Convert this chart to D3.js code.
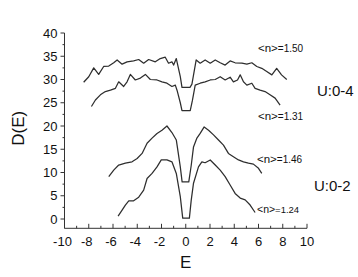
<!DOCTYPE html>
<html>
<head>
<meta charset="utf-8">
<script src="https://cdn.jsdelivr.net/npm/d3@7"></script>
<style>
  body { margin: 0; background: #fff; }
  text { font-family: "Liberation Sans", Arial, sans-serif; fill: #111; }
</style>
</head>
<body>
<svg id="chart"></svg>
<script>
// density of states curves, [E, D(E)]
const n150 = [[-8.42, 29.4], [-8.0, 30.6], [-7.59, 32.5], [-7.18, 31.1], [-6.77, 32.8], [-6.35, 32.9],
  [-5.94, 33.6], [-5.66, 34.2], [-5.25, 33.3], [-4.84, 33.8], [-4.3, 34.0], [-3.88, 34.3], [-3.47, 33.5],
  [-3.06, 34.3], [-2.51, 33.8], [-2.1, 34.5], [-1.69, 34.8], [-1.42, 33.5], [-1.14, 33.8], [-1.0, 33.1],
  [-0.78, 34.5], [-0.45, 30.6], [-0.31, 28.3], [0.35, 28.3], [0.51, 29.0], [0.86, 34.2], [1.19, 33.5],
  [1.6, 34.2], [2.02, 33.5], [2.43, 34.2], [2.84, 33.6], [3.25, 33.1], [3.66, 34.0], [4.07, 33.6],
  [4.63, 33.5], [5.04, 33.3], [5.45, 33.6], [5.86, 32.8], [6.27, 32.4], [6.68, 31.7], [7.1, 31.0],
  [7.5, 32.4], [7.9, 31.0], [8.33, 30.0]];
const n131 = [[-7.78, 24.2], [-7.45, 25.6], [-7.04, 26.7], [-6.63, 27.4], [-6.21, 27.7], [-5.8, 28.1],
  [-5.53, 29.5], [-5.12, 28.5], [-4.84, 29.5], [-4.57, 31.1], [-4.16, 29.9], [-3.74, 30.3], [-3.33, 31.1],
  [-2.92, 30.0], [-2.37, 29.9], [-1.96, 29.5], [-1.55, 29.2], [-1.14, 28.5], [-0.86, 28.8], [-0.72, 27.7],
  [-0.45, 25.0], [-0.31, 23.3], [0.37, 23.3], [0.55, 25.5], [0.78, 28.8], [1.19, 29.2], [1.6, 29.5],
  [2.02, 29.9], [2.43, 30.0], [2.84, 30.6], [3.25, 29.9], [3.66, 30.5], [3.93, 29.5], [4.27, 29.9],
  [4.49, 31.0], [4.76, 29.5], [5.04, 28.8], [5.45, 29.2], [5.72, 28.1], [6.13, 27.7], [6.54, 27.4],
  [6.95, 26.7], [7.37, 26.0], [7.78, 24.5]];
const n146 = [[-6.35, 9.1], [-5.94, 10.5], [-5.53, 11.6], [-4.98, 12.0], [-4.43, 12.3], [-4.01, 13.0],
  [-3.6, 14.1], [-3.19, 16.3], [-2.78, 17.4], [-2.37, 18.4], [-1.96, 19.1], [-1.55, 20.0], [-1.14, 18.6],
  [-0.78, 17.0], [-0.45, 11.2], [-0.3, 8.0], [0.25, 8.0], [0.45, 11.5], [0.64, 15.5], [0.92, 17.4],
  [1.19, 18.4], [1.52, 19.8], [1.88, 19.1], [2.29, 18.1], [2.7, 17.0], [3.11, 15.9], [3.52, 14.1],
  [3.93, 13.4], [4.35, 12.7], [4.76, 12.3], [5.17, 12.0], [5.58, 11.8], [6.0, 10.9], [6.27, 9.8]];
const n124 = [[-5.58, 0.6], [-5.25, 1.9], [-4.98, 3.0], [-4.7, 3.9], [-4.3, 3.9], [-3.88, 4.7],
  [-3.47, 6.2], [-3.19, 8.7], [-2.78, 9.8], [-2.37, 11.2], [-2.02, 12.7], [-1.55, 12.7], [-1.14, 12.3],
  [-0.78, 9.8], [-0.45, 4.8], [-0.25, 0.2], [0.3, 0.2], [0.45, 4.0], [0.64, 7.7], [1.05, 11.2],
  [1.33, 12.3], [1.6, 12.1], [2.02, 12.7], [2.43, 11.6], [2.84, 10.5], [3.25, 9.1], [3.66, 7.3],
  [4.07, 5.5], [4.49, 4.5], [4.9, 4.1], [5.31, 3.0], [5.72, 1.4]];

const curves = [n150, n131, n146, n124];
const fillings = ['1.50', '1.31', '1.46', '1.24'];
const xTicks = [-10, -8, -6, -4, -2, 0, 2, 4, 6, 8, 10];
const yTicks = [0, 5, 10, 15, 20, 25, 30, 35, 40];

const width = 358;
const height = 277;

const svg = d3.select('#chart')
  .attr('width', width)
  .attr('height', height);

const xScale = d3.scaleLinear().domain([-10, 10]).range([64.5, 307]);
const yScale = d3.scaleLinear().domain([0, 40]).range([219, 33]);
const yBottom = yScale(-2);

const line = d3.line()
  .x(d => xScale(d[0]))
  .y(d => yScale(d[1]));

svg.selectAll('path.dos')
  .data(curves)
  .enter().append('path')
  .attr('class', 'dos')
  .attr('fill', 'none')
  .attr('stroke', '#2e2e2e')
  .attr('stroke-width', 1.25)
  .attr('stroke-linejoin', 'round')
  .attr('d', line);

// x axis, ticks pointing in
const gx = svg.append('g')
  .attr('transform', `translate(0, ${yBottom})`);
gx.append('line')
  .attr('x1', xScale(-10)).attr('x2', xScale(10))
  .attr('stroke', '#333');
gx.selectAll('line.tick')
  .data(d3.range(-10, 11, 1))
  .enter().append('line')
  .attr('class', 'tick')
  .attr('x1', d => xScale(d)).attr('x2', d => xScale(d))
  .attr('y1', 0).attr('y2', d => d % 2 === 0 ? -4.5 : -2.5)
  .attr('stroke', '#333');
gx.selectAll('text')
  .data(xTicks)
  .enter().append('text')
  .attr('x', d => xScale(d) - (d < 0 ? 2 : 0))
  .attr('y', 18)
  .attr('text-anchor', 'middle')
  .attr('font-size', 13)
  .text(d => d);

// y axis, ticks pointing out
const gy = svg.append('g')
  .attr('transform', `translate(${xScale(-10)}, 0)`);
gy.append('line')
  .attr('y1', yScale(40)).attr('y2', yBottom)
  .attr('stroke', '#333');
gy.selectAll('line.tick')
  .data(d3.range(0, 40.1, 2.5))
  .enter().append('line')
  .attr('class', 'tick')
  .attr('y1', d => yScale(d)).attr('y2', d => yScale(d))
  .attr('x1', 0).attr('x2', d => d % 5 === 0 ? -4 : -2)
  .attr('stroke', '#333');
gy.selectAll('text')
  .data(yTicks)
  .enter().append('text')
  .attr('x', -7)
  .attr('y', d => yScale(d) + 4.5)
  .attr('text-anchor', 'end')
  .attr('font-size', 13)
  .text(d => d);

svg.append('text')
  .attr('transform', `translate(24, ${yScale(19.5)}) rotate(-90)`)
  .attr('text-anchor', 'middle')
  .attr('font-size', 17)
  .text('D(E)');

svg.append('text')
  .attr('x', xScale(0))
  .attr('y', 268)
  .attr('text-anchor', 'middle')
  .attr('font-size', 17)
  .text('E');

// filling labels
const labelPos = [[258, 52], [258, 120], [257, 163], [257, 213]];
fillings.forEach((f, i) => {
  const t = svg.append('text')
    .attr('x', labelPos[i][0])
    .attr('y', labelPos[i][1])
    .attr('font-size', i === 3 ? 10.5 : 11.5);
  t.append('tspan').text('<n>');
  t.append('tspan').attr('font-size', i === 3 ? 9.5 : 10).text('=' + f);
});

svg.append('text')
  .attr('x', 317).attr('y', 96)
  .attr('font-size', 15)
  .text('U:0-4');
svg.append('text')
  .attr('x', 314).attr('y', 191)
  .attr('font-size', 15)
  .text('U:0-2');
</script>
</body>
</html>
